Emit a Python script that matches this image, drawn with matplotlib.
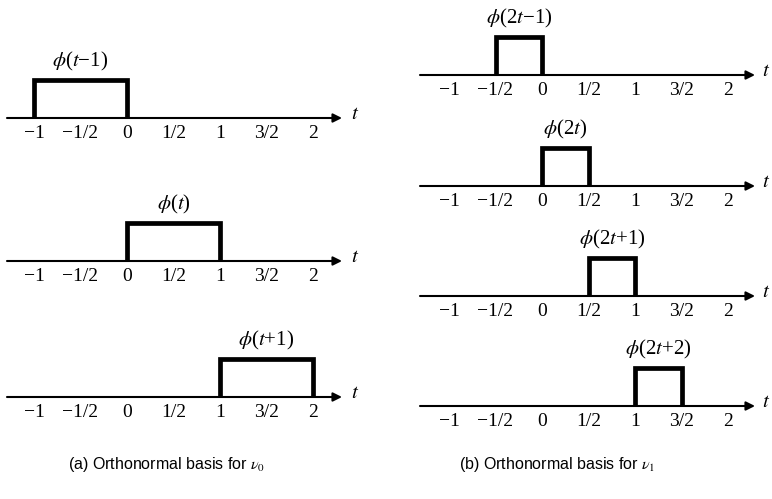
import matplotlib
matplotlib.use("Agg")
import matplotlib.pyplot as plt

plt.rcParams['font.family'] = ['Liberation Serif', 'DejaVu Serif']
plt.rcParams['mathtext.fontset'] = 'stix'

# tick positions and labels shared by every small axis
ticks = [-1, -0.5, 0, 0.5, 1, 1.5, 2]
tick_labels = ['\u22121', '\u22121/2', '0', '1/2', '1', '3/2', '2']

# (a) basis of V0: box start, width 1
left_starts = [-1, 0, 1]
left_width = 1.0
left_names = ['$\\phi$($t$\u22121)', '$\\phi$($t$)', '$\\phi$($t$+1)']

# (b) basis of V1: box start, width 1/2
right_starts = [-0.5, 0, 0.5, 1]
right_width = 0.5
right_names = ['$\\phi$(2$t$\u22121)', '$\\phi$(2$t$)', '$\\phi$(2$t$+1)', '$\\phi$(2$t$+2)']

W, H = 772, 499
fig = plt.figure(figsize=(W / 100, H / 100), dpi=100)

UNIT_Y = 38  # pixels for box height
YLO, YHI = -0.9, 1.9


def make_axes(x0, x1, axis_y, tmin, tmax, t_gap):
    bottom = axis_y + (-YLO) * UNIT_Y
    height = (YHI - YLO) * UNIT_Y
    ax = fig.add_axes([x0 / W, 1 - bottom / H, (x1 - x0) / W, height / H])
    ax.set_xlim(tmin, tmax)
    ax.set_ylim(YLO, YHI)
    ax.patch.set_visible(False)
    for s in ax.spines.values():
        s.set_visible(False)
    ax.spines['bottom'].set_position(('data', 0))
    ax.set_yticks([])
    ax.set_xticks(ticks, labels=tick_labels)
    ax.tick_params(axis='x', length=0, pad=5, labelsize=14)
    # horizontal t axis with arrow head
    ax.annotate('', xy=(tmax, 0), xytext=(tmin, 0),
                arrowprops=dict(arrowstyle='-|>', lw=1.5, color='black',
                                mutation_scale=13, shrinkA=0, shrinkB=0))
    ax.text(tmax + t_gap, 0.08, '$t$', fontsize=15, va='center', ha='left', clip_on=False)
    return ax


def draw_box(ax, start, width, name):
    ax.plot([start, start, start + width, start + width], [0, 1, 1, 0],
            color='black', lw=3.4, solid_joinstyle='miter', solid_capstyle='butt')
    ax.text(start + width / 2, 1.5, name, fontsize=15, ha='center', va='center')


# left column: x(t) = 127 + 93 t
for start, name, y in zip(left_starts, left_names, [118, 261, 397]):
    ax = make_axes(7, 342, y, (7 - 127) / 93, (342 - 127) / 93, 0.1)
    draw_box(ax, start, left_width, name)

# right column: x(t) = 542 + 93 t
for start, name, y in zip(right_starts, right_names, [75, 186, 296, 406]):
    ax = make_axes(420, 755, y, (420 - 542) / 93, (755 - 542) / 93, 0.07)
    draw_box(ax, start, right_width, name)

cap_font = ['Liberation Sans Narrow', 'Liberation Sans', 'DejaVu Sans']
fig.text(167 / W, 1 - 464 / H, '(a) Orthonormal basis for $\\nu_0$',
         ha='center', va='center', fontsize=11.5, family=cap_font)
fig.text(557 / W, 1 - 464 / H, '(b) Orthonormal basis for $\\nu_1$',
         ha='center', va='center', fontsize=11.5, family=cap_font)

fig.savefig('out.png', dpi=100)
